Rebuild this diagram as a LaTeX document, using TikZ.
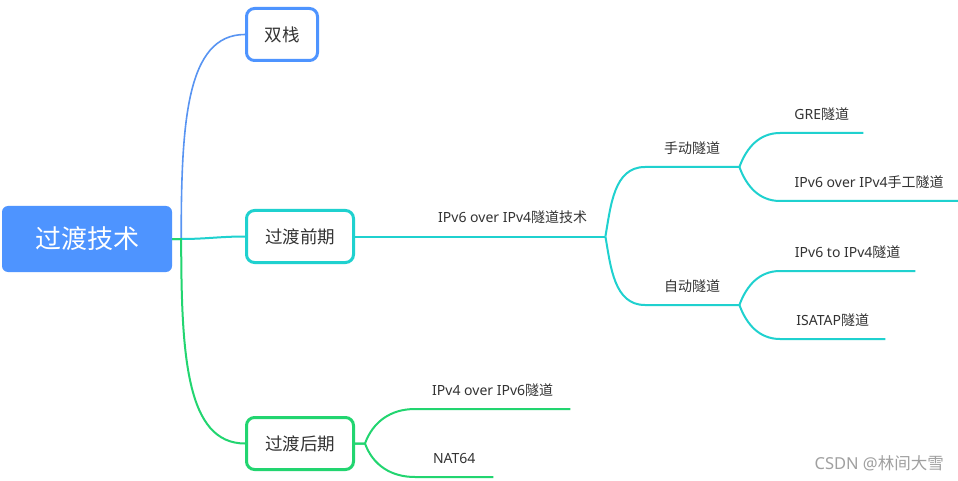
\documentclass[tikz,border=0pt]{standalone}
\usepackage{fontspec}
\setmainfont{Noto Sans}
\newfontfamily\cjk{Noto Sans CJK SC}
\usepackage{tikz}
\usetikzlibrary{positioning}

\definecolor{rootblue}{HTML}{4E94FF}
\definecolor{linkblue}{HTML}{5894F2}
\definecolor{earlycyan}{HTML}{1FD1CF}
\definecolor{lategreen}{HTML}{22D570}
\definecolor{labelgray}{HTML}{333333}
\definecolor{markgray}{HTML}{A0A0A0}

\begin{document}
\begin{tikzpicture}[
    x=1pt, y=1pt,
    topic/.style={draw, rounded corners=8pt, line width=3pt, fill=white, minimum height=52pt, inner sep=0pt, text=labelgray, font=\cjk\fontsize{17.5}{20}\selectfont},
    leaf/.style={anchor=south west, inner xsep=0pt, inner ysep=10.5pt, text height=10pt, text depth=3pt, text=labelgray, font=\fontsize{14}{16}\selectfont},
    link/.style={line width=2pt}
]
    \fill[white] (0,0) rectangle (958,-481);
    \useasboundingbox (0,0) rectangle (958,-481);

    \node[fill=rootblue, rounded corners=6pt, minimum width=170pt, minimum height=66pt, inner sep=0pt, text=white, font=\cjk\fontsize{26}{30}\selectfont] (root) at (87,-239) {过渡技术};
    \node[topic, draw=rootblue, minimum width=71pt]   (stack) at (282,-34.5)  {双栈};
    \node[topic, draw=earlycyan, minimum width=107pt] (early) at (300,-236.5) {过渡前期};
    \node[topic, draw=lategreen, minimum width=107pt] (late)  at (300,-443.5) {过渡后期};

    \coordinate[right=9pt of root.east] (j0);
    \coordinate[right=10pt of late.east] (j4);

    \node[leaf, minimum width=185pt] (tunnel)      at (420,-236.5) {IPv6 over IPv4{\cjk 隧道技术}};
    \node[leaf, minimum width=94pt]  (manual)      at (645,-167)   {{\cjk 手动隧道}};
    \node[leaf, minimum width=94pt]  (auto)        at (645,-305)   {{\cjk 自动隧道}};
    \node[leaf, minimum width=83pt]  (gre)         at (780,-133)   {GRE{\cjk 隧道}};
    \node[leaf, minimum width=178pt] (handmade)    at (780,-201)   {IPv6 over IPv4{\cjk 手工隧道}};
    \node[leaf, minimum width=135pt] (sixtofour)   at (780,-271)   {IPv6 to IPv4{\cjk 隧道}};
    \node[leaf, minimum width=105pt] (isatap)      at (780,-339)   {ISATAP{\cjk 隧道}};
    \node[leaf, minimum width=155pt] (fouroversix) at (415,-409)   {IPv4 over IPv6{\cjk 隧道}};
    \node[leaf, minimum width=78pt]  (nat)         at (415,-477)   {NAT64};

    % root branches
    \draw[linkblue, line width=1.6pt] (root.east) -- (j0) to[out=90, in=180, out looseness=1.4, in looseness=0.7] (stack.west);
    \draw[link, earlycyan] (root.east) -- (j0) to[out=0, in=180] (early.west);
    \draw[link, lategreen] (root.east) -- (j0) to[out=-90, in=180, out looseness=1.4, in looseness=0.7] (late.west);

    % early stage
    \draw[link, earlycyan] (early.east) -- (tunnel.south west) -- (tunnel.south east);
    \draw[link, earlycyan] (tunnel.south east) to[out=80, in=180] (manual.south west) -- (manual.south east);
    \draw[link, earlycyan] (tunnel.south east) to[out=-80, in=180] (auto.south west) -- (auto.south east);
    \draw[link, earlycyan] (manual.south east) to[out=70, in=180] (gre.south west) -- (gre.south east);
    \draw[link, earlycyan] (manual.south east) to[out=-70, in=180] (handmade.south west) -- (handmade.south east);
    \draw[link, earlycyan] (auto.south east) to[out=70, in=180] (sixtofour.south west) -- (sixtofour.south east);
    \draw[link, earlycyan] (auto.south east) to[out=-70, in=180] (isatap.south west) -- (isatap.south east);

    % late stage
    \draw[link, lategreen] (late.east) -- (j4) to[out=70, in=180] (fouroversix.south west) -- (fouroversix.south east);
    \draw[link, lategreen] (late.east) -- (j4) to[out=-70, in=180] (nat.south west) -- (nat.south east);

    \node[anchor=east, inner sep=0pt, text=markgray, font=\fontsize{16.5}{19}\selectfont] (mark) at (944,-463) {CSDN @{\cjk 林间大雪}};
\end{tikzpicture}
\end{document}
